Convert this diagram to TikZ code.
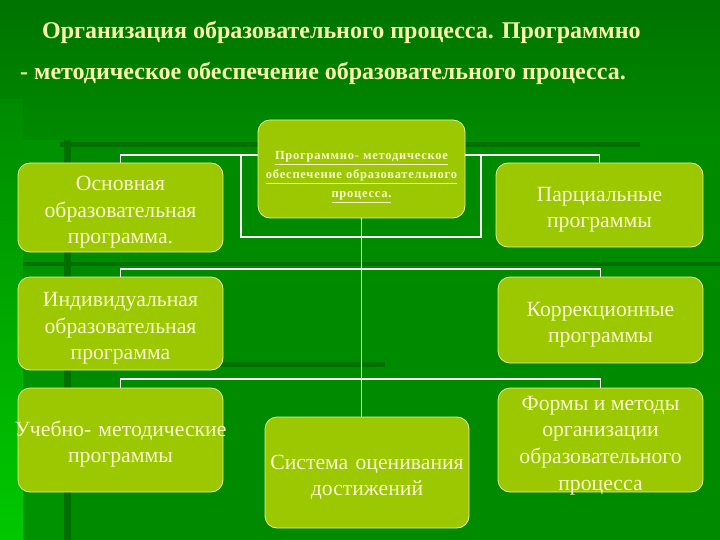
\documentclass[tikz,border=0pt]{standalone}
\usepackage{fontspec}
\setmainfont{Liberation Serif}
\usetikzlibrary{backgrounds}
\definecolor{bgG}{RGB}{0,138,0}
\definecolor{bgTop}{RGB}{0,115,0}
\definecolor{bgLeft}{RGB}{0,200,0}
\definecolor{bgCol}{RGB}{0,146,0}
\definecolor{bgDark}{RGB}{0,112,0}
\definecolor{boxFill}{RGB}{155,200,0}
\definecolor{boxLine}{RGB}{225,240,160}
\definecolor{boxText}{RGB}{250,250,205}
\definecolor{titleText}{RGB}{250,250,175}
\tikzset{
  boxbase/.style={draw=boxLine, line width=0.8pt, fill=boxFill, rounded corners=12pt,
    inner sep=0pt},
  boxtext/.style={inner sep=0pt, align=center, text=boxText,
    font=\fontsize{21.7}{26.6}\selectfont},
  box/.style={boxbase, boxtext, text width=200pt,
    execute at begin node={\rule{0pt}{24pt}}},
  headbox/.style={box, font=\bfseries\fontsize{12.5}{19}\selectfont,
    execute at begin node={\rule{0pt}{10pt}}},
  titletext/.style={anchor=west, inner sep=0pt, text=titleText,
    font=\bfseries\fontsize{24}{28}\selectfont},
  conn/.style={draw=white, line width=1.6pt},
}
\begin{document}
\begin{tikzpicture}[x=1pt,y=-1pt]
\useasboundingbox (0,0) rectangle (720,540);

\node[titletext] (t1) at (42,32) {Организация образовательного процесса. Программно};
\node[titletext] (t2) at (20,73) {- методическое обеспечение образовательного процесса.};

\node[headbox, minimum width=207, minimum height=98] (c) at (361.5,169)
  {\addfontfeatures{LetterSpace=6}%
   \underline{Программно- методическое}\\ \underline{обеспечение образовательного}\\ \underline{процесса.}};
\node[box, minimum width=205, minimum height=89] (osn) at (120.5,207.5)
  {Основная\\ образовательная\\ программа.};
\node[box, minimum width=207, minimum height=84] (parc) at (599.5,205)
  {Парциальные\\ программы};
\node[box, minimum width=205, minimum height=93] (ind) at (120.5,323.5)
  {Индивидуальная\\ образовательная\\ программа};
\node[box, minimum width=205, minimum height=86] (kor) at (600.5,320)
  {Коррекционные\\ программы};
\node[box, minimum width=205, minimum height=104] (ucheb) at (120.5,440)
  {\makebox[\linewidth]{Учебно- методические}\\ программы};
\node[box, minimum width=204, minimum height=111] (sys) at (367,472.5)
  {Система оценивания\\ достижений};
\node[boxbase, minimum width=205, minimum height=104] (form) at (600.5,440) {};
\node[boxtext] (formtxt) at (600.5,445.5)
  {Формы и методы\\ организации\\ образовательного\\ процесса};

\coordinate (ytop) at (361,155);
\coordinate (ymid) at (361,269);
\coordinate (ybot) at (361,379);
\coordinate (r1) at (241,155);
\coordinate (r2) at (481,237);

\begin{pgfonlayer}{background}
  % background
  \fill[bgG] (0,0) rectangle (720,540);
  \shade[top color=bgTop, bottom color=bgG] (0,0) rectangle (720,140);
  \shade[top color=bgG, bottom color=bgLeft] (0,100) rectangle (23,540);
  \fill[bgCol] (23,140) rectangle (64,540);
  \fill[bgDark] (64,140) rectangle (71,540);
  \fill[bgDark] (60,142) rectangle (640,147);
  \fill[bgDark] (23,262) rectangle (720,266);
  \fill[bgDark] (160,362) rectangle (385,367);
  % connectors
  \draw[conn] (r1) rectangle (r2);
  \draw[conn] (osn.north) |- (parc.north |- ytop) -- (parc.north);
  \draw[conn] (ind.north) |- (kor.north |- ymid) -- (kor.north);
  \draw[conn] (ucheb.north) |- (form.north |- ybot) -- (form.north);
  \draw[conn] (c.south) -- (c.south |- sys.north);
\end{pgfonlayer}
\end{tikzpicture}
\end{document}
